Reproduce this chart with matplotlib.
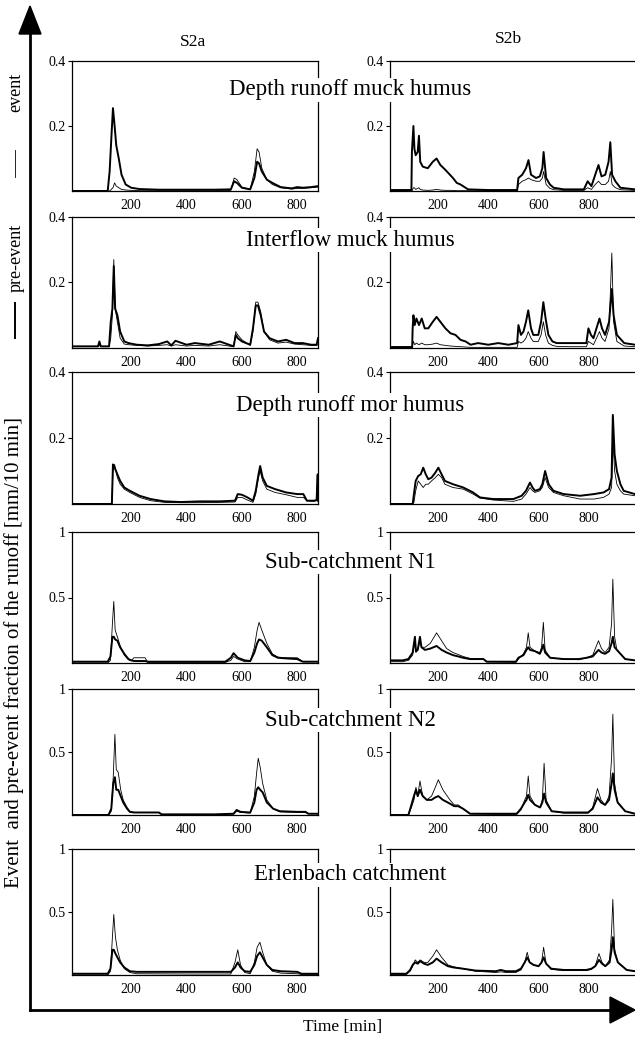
import matplotlib.pyplot as plt
from matplotlib.patches import Polygon

plt.rcParams['font.family'] = ['Liberation Serif', 'DejaVu Serif']

# ---- data (time in min, runoff in mm/10 min) ----
# S2a column
dr_muck_a_t = [-14, 115, 122, 128, 134, 140, 146, 155, 165, 180, 200, 230, 300, 400, 500, 560,
               572, 582, 600, 630, 645, 655, 662, 672, 690, 710, 740, 780, 800, 820, 850, 875]
dr_muck_a_pre = [0, 0, 0.06, 0.16, 0.255, 0.2, 0.14, 0.1, 0.05, 0.02, 0.01, 0.006, 0.004, 0.004, 0.004, 0.005,
                 0.03, 0.025, 0.01, 0.005, 0.04, 0.09, 0.085, 0.06, 0.035, 0.025, 0.012, 0.008, 0.012, 0.01, 0.012, 0.015]
dr_muck_a_evt = [0, 0, 0, 0.005, 0.01, 0.025, 0.015, 0.01, 0.005, 0.003, 0.002, 0.001, 0.001, 0.001, 0.001, 0.002,
                 0.04, 0.035, 0.012, 0.005, 0.06, 0.13, 0.12, 0.07, 0.035, 0.02, 0.01, 0.006, 0.008, 0.008, 0.01, 0.012]

if_muck_a_t = [-14, 80, 85, 90, 120, 126, 132, 137, 142, 150, 160, 175, 190, 220, 260, 300, 330, 345, 360, 400,
               430, 480, 520, 570, 578, 585, 600, 630, 640, 650, 658, 668, 680, 700, 730, 760, 790, 820, 850, 870, 875]
if_muck_a_pre = [0.005, 0.005, 0.02, 0.005, 0.005, 0.08, 0.12, 0.25, 0.12, 0.1, 0.05, 0.02, 0.015, 0.01, 0.008, 0.012,
                 0.02, 0.008, 0.022, 0.01, 0.015, 0.01, 0.02, 0.005, 0.04, 0.03, 0.02, 0.01, 0.06, 0.13, 0.13, 0.1,
                 0.05, 0.03, 0.02, 0.025, 0.015, 0.015, 0.01, 0.01, 0.03]
if_muck_a_evt = [0.005, 0.005, 0.01, 0.005, 0.005, 0.03, 0.1, 0.27, 0.12, 0.08, 0.03, 0.012, 0.01, 0.008, 0.006, 0.008,
                 0.01, 0.006, 0.01, 0.006, 0.008, 0.006, 0.01, 0.004, 0.05, 0.04, 0.025, 0.008, 0.05, 0.14, 0.14, 0.11,
                 0.05, 0.025, 0.015, 0.018, 0.012, 0.01, 0.008, 0.008, 0.01]

dr_mor_a_t = [-14, 130, 134, 140, 150, 160, 175, 195, 230, 270, 320, 380, 450, 520, 575, 585, 600, 620, 640, 650,
              660, 666, 675, 690, 720, 760, 800, 822, 835, 860, 870, 874, 875]
dr_mor_a_pre = [0, 0, 0.12, 0.11, 0.09, 0.07, 0.05, 0.04, 0.025, 0.015, 0.008, 0.006, 0.008, 0.008, 0.01, 0.03,
                0.028, 0.02, 0.01, 0.04, 0.09, 0.115, 0.08, 0.055, 0.045, 0.035, 0.03, 0.03, 0.01, 0.01, 0.012, 0.09, 0.01]
dr_mor_a_evt = [0, 0, 0.1, 0.12, 0.08, 0.06, 0.045, 0.035, 0.02, 0.01, 0.005, 0.004, 0.004, 0.005, 0.006, 0.02,
                0.02, 0.012, 0.005, 0.03, 0.08, 0.1, 0.07, 0.045, 0.035, 0.028, 0.02, 0.02, 0.01, 0.008, 0.01, 0.05, 0.01]

n1_a_t = [-14, 115, 125, 132, 137, 142, 150, 160, 175, 190, 200, 210, 250, 260, 400, 540, 560, 570, 585, 610,
          630, 645, 655, 662, 672, 690, 710, 730, 760, 800, 820, 875]
n1_a_pre = [0.01, 0.01, 0.05, 0.2, 0.2, 0.18, 0.17, 0.12, 0.07, 0.03, 0.02, 0.015, 0.015, 0.01, 0.01, 0.01,
            0.04, 0.075, 0.04, 0.02, 0.015, 0.08, 0.15, 0.18, 0.17, 0.12, 0.06, 0.04, 0.035, 0.03, 0.01, 0.01]
n1_a_evt = [0, 0, 0.02, 0.3, 0.47, 0.25, 0.2, 0.13, 0.06, 0.025, 0.02, 0.04, 0.04, 0.005, 0.005, 0.005,
            0.02, 0.05, 0.03, 0.01, 0.01, 0.12, 0.25, 0.31, 0.25, 0.15, 0.07, 0.045, 0.04, 0.04, 0.01, 0.01]

n2_a_t = [-14, 118, 128, 135, 141, 146, 153, 162, 171, 185, 195, 210, 300, 310, 500, 570, 581, 595, 630, 645,
          653, 659, 666, 675, 690, 713, 737, 800, 830, 840, 875]
n2_a_pre = [0, 0, 0.05, 0.25, 0.3, 0.2, 0.2, 0.15, 0.1, 0.05, 0.025, 0.02, 0.02, 0.005, 0.005, 0.01,
            0.04, 0.025, 0.02, 0.1, 0.2, 0.22, 0.2, 0.18, 0.1, 0.05, 0.03, 0.025, 0.025, 0.01, 0.01]
n2_a_evt = [0, 0, 0.03, 0.3, 0.64, 0.36, 0.34, 0.2, 0.12, 0.06, 0.03, 0.02, 0.02, 0.005, 0.005, 0.008,
            0.03, 0.02, 0.015, 0.15, 0.33, 0.45, 0.38, 0.25, 0.12, 0.05, 0.025, 0.02, 0.02, 0.01, 0.01]

erl_a_t = [-14, 115, 125, 132, 137, 143, 150, 160, 175, 195, 220, 400, 560, 575, 585, 595, 610, 630, 645, 655,
           665, 675, 690, 710, 740, 800, 815, 875]
erl_a_pre = [0.01, 0.01, 0.05, 0.2, 0.2, 0.17, 0.14, 0.1, 0.06, 0.03, 0.025, 0.025, 0.025, 0.06, 0.1, 0.06,
             0.03, 0.025, 0.08, 0.15, 0.18, 0.14, 0.08, 0.04, 0.03, 0.025, 0.01, 0.01]
erl_a_evt = [0, 0, 0.03, 0.3, 0.48, 0.3, 0.2, 0.12, 0.05, 0.02, 0.01, 0.008, 0.008, 0.1, 0.2, 0.08,
             0.02, 0.01, 0.1, 0.22, 0.26, 0.18, 0.08, 0.03, 0.015, 0.01, 0.005, 0.005]

# S2b column
dr_muck_b_t = [10, 95, 97, 103, 107, 112, 120, 125, 130, 140, 160, 180, 195, 210, 230, 260, 275, 290, 320, 400,
               515, 520, 535, 550, 560, 570, 590, 605, 615, 620, 630, 645, 660, 700, 780, 795, 810, 825, 838, 850,
               865, 878, 885, 892, 905, 925, 983]
dr_muck_b_pre = [0.003, 0.003, 0.12, 0.2, 0.13, 0.11, 0.12, 0.17, 0.09, 0.075, 0.07, 0.09, 0.1, 0.08, 0.065, 0.04,
                 0.025, 0.02, 0.005, 0.003, 0.003, 0.04, 0.05, 0.07, 0.095, 0.05, 0.04, 0.045, 0.07, 0.12, 0.04, 0.02,
                 0.01, 0.005, 0.005, 0.03, 0.015, 0.05, 0.08, 0.045, 0.05, 0.09, 0.15, 0.05, 0.03, 0.01, 0.005]
dr_muck_b_evt = [0, 0, 0, 0.01, 0.01, 0.005, 0.008, 0.01, 0.005, 0.003, 0.002, 0.003, 0.005, 0.003, 0.002, 0.002,
                 0.001, 0.001, 0.001, 0.001, 0.001, 0.02, 0.03, 0.035, 0.04, 0.035, 0.03, 0.03, 0.04, 0.06, 0.02, 0.008,
                 0.004, 0.002, 0.002, 0.01, 0.005, 0.02, 0.03, 0.02, 0.02, 0.03, 0.06, 0.02, 0.01, 0.004, 0.002]

if_muck_b_t = [10, 98, 100, 103, 108, 115, 125, 136, 148, 162, 180, 195, 210, 230, 250, 270, 290, 310, 330, 360,
               400, 440, 480, 515, 520, 530, 540, 550, 559, 570, 579, 599, 610, 619, 628, 639, 655, 672, 720, 790,
               798, 808, 818, 830, 842, 852, 864, 880, 891, 898, 911, 940, 983]
if_muck_b_pre = [0.003, 0.003, 0.06, 0.1, 0.07, 0.09, 0.07, 0.09, 0.06, 0.06, 0.08, 0.095, 0.08, 0.06, 0.045, 0.04,
                 0.025, 0.02, 0.01, 0.015, 0.01, 0.015, 0.01, 0.015, 0.07, 0.04, 0.05, 0.08, 0.115, 0.06, 0.04, 0.04,
                 0.08, 0.14, 0.09, 0.04, 0.02, 0.015, 0.015, 0.015, 0.06, 0.04, 0.03, 0.06, 0.09, 0.06, 0.04, 0.08,
                 0.18, 0.1, 0.04, 0.015, 0.01]
if_muck_b_evt = [0, 0, 0.01, 0.02, 0.01, 0.015, 0.01, 0.015, 0.01, 0.01, 0.012, 0.015, 0.01, 0.008, 0.006, 0.005,
                 0.004, 0.003, 0.002, 0.002, 0.002, 0.002, 0.002, 0.002, 0.02, 0.015, 0.02, 0.03, 0.05, 0.03, 0.02, 0.02,
                 0.04, 0.08, 0.04, 0.015, 0.008, 0.005, 0.004, 0.004, 0.02, 0.015, 0.01, 0.03, 0.05, 0.03, 0.02, 0.06,
                 0.29, 0.08, 0.02, 0.006, 0.004]

dr_mor_b_t = [10, 100, 105, 112, 122, 132, 142, 152, 162, 175, 190, 202, 215, 228, 260, 301, 340, 367, 420, 460,
              500, 533, 550, 566, 576, 586, 605, 615, 626, 640, 659, 700, 765, 820, 858, 880, 890, 895, 902, 911,
              925, 938, 983]
dr_mor_b_pre = [0, 0, 0.03, 0.07, 0.085, 0.09, 0.11, 0.09, 0.075, 0.08, 0.095, 0.11, 0.09, 0.07, 0.06, 0.05,
                0.035, 0.02, 0.015, 0.015, 0.015, 0.025, 0.04, 0.065, 0.05, 0.04, 0.045, 0.06, 0.1, 0.06, 0.04, 0.03,
                0.025, 0.03, 0.035, 0.045, 0.08, 0.27, 0.15, 0.1, 0.06, 0.04, 0.03]
dr_mor_b_evt = [0, 0, 0.005, 0.04, 0.07, 0.06, 0.05, 0.06, 0.06, 0.07, 0.08, 0.09, 0.08, 0.06, 0.05, 0.045,
                0.03, 0.018, 0.012, 0.01, 0.008, 0.015, 0.03, 0.05, 0.04, 0.035, 0.04, 0.05, 0.08, 0.05, 0.035, 0.025,
                0.015, 0.015, 0.02, 0.03, 0.05, 0.2, 0.1, 0.06, 0.04, 0.03, 0.025]

n1_b_t = [10, 60, 83, 100, 109, 113, 120, 129, 135, 149, 170, 195, 215, 235, 260, 281, 300, 328, 381, 394,
          510, 520, 540, 552, 559, 566, 586, 605, 612, 619, 626, 646, 699, 760, 791, 815, 838, 850, 864, 880,
          890, 895, 902, 911, 944, 983]
n1_b_pre = [0.02, 0.02, 0.03, 0.08, 0.2, 0.09, 0.1, 0.2, 0.12, 0.1, 0.11, 0.13, 0.1, 0.08, 0.06, 0.05,
            0.04, 0.03, 0.03, 0.01, 0.01, 0.04, 0.06, 0.1, 0.12, 0.1, 0.09, 0.07, 0.1, 0.14, 0.08, 0.04,
            0.03, 0.03, 0.04, 0.05, 0.1, 0.08, 0.07, 0.09, 0.15, 0.2, 0.12, 0.1, 0.03, 0.02]
n1_b_evt = [0.01, 0.01, 0.02, 0.06, 0.18, 0.08, 0.1, 0.17, 0.12, 0.12, 0.15, 0.23, 0.17, 0.11, 0.08, 0.065,
            0.05, 0.035, 0.03, 0.01, 0.005, 0.03, 0.07, 0.12, 0.23, 0.12, 0.09, 0.08, 0.12, 0.31, 0.1, 0.04,
            0.03, 0.025, 0.04, 0.06, 0.17, 0.11, 0.08, 0.12, 0.3, 0.64, 0.2, 0.1, 0.03, 0.02]

n2_b_t = [10, 83, 95, 105, 113, 120, 129, 140, 156, 175, 190, 202, 220, 248, 265, 281, 300, 328, 420, 513,
          530, 545, 552, 559, 566, 586, 606, 615, 622, 630, 652, 700, 797, 815, 834, 848, 864, 880, 890, 895,
          902, 914, 944, 983]
n2_b_pre = [0, 0, 0.08, 0.15, 0.2, 0.15, 0.2, 0.15, 0.12, 0.12, 0.14, 0.15, 0.12, 0.09, 0.07, 0.07,
            0.05, 0.01, 0.01, 0.01, 0.05, 0.1, 0.12, 0.16, 0.12, 0.08, 0.06, 0.1, 0.17, 0.1, 0.03, 0.02,
            0.02, 0.05, 0.14, 0.1, 0.08, 0.12, 0.25, 0.33, 0.2, 0.1, 0.03, 0.01]
n2_b_evt = [0, 0, 0.06, 0.12, 0.22, 0.15, 0.27, 0.15, 0.12, 0.15, 0.22, 0.28, 0.2, 0.12, 0.08, 0.08,
            0.05, 0.01, 0.005, 0.005, 0.04, 0.12, 0.15, 0.31, 0.15, 0.08, 0.06, 0.12, 0.41, 0.12, 0.03, 0.015,
            0.015, 0.06, 0.21, 0.12, 0.08, 0.15, 0.45, 0.8, 0.25, 0.1, 0.03, 0.01]

erl_b_t = [10, 75, 90, 100, 110, 120, 130, 145, 160, 180, 195, 215, 240, 262, 300, 350, 430, 450, 470, 510,
           530, 545, 555, 565, 580, 600, 612, 620, 630, 650, 700, 790, 810, 825, 840, 852, 865, 882, 890, 895,
           902, 915, 950, 983]
erl_b_pre = [0.01, 0.01, 0.04, 0.08, 0.1, 0.09, 0.11, 0.09, 0.08, 0.1, 0.13, 0.1, 0.07, 0.06, 0.05, 0.035,
             0.03, 0.04, 0.03, 0.03, 0.05, 0.1, 0.14, 0.1, 0.08, 0.07, 0.1, 0.14, 0.09, 0.05, 0.04, 0.04,
             0.05, 0.07, 0.12, 0.09, 0.07, 0.1, 0.2, 0.3, 0.18, 0.1, 0.04, 0.03]
erl_b_evt = [0.005, 0.005, 0.03, 0.07, 0.12, 0.1, 0.12, 0.1, 0.1, 0.15, 0.2, 0.14, 0.08, 0.065, 0.05, 0.03,
             0.02, 0.025, 0.02, 0.02, 0.04, 0.1, 0.18, 0.1, 0.08, 0.07, 0.1, 0.22, 0.09, 0.045, 0.035, 0.035,
             0.045, 0.07, 0.17, 0.1, 0.07, 0.12, 0.35, 0.6, 0.2, 0.1, 0.04, 0.03]

row_titles = ["Depth runoff muck humus", "Interflow muck humus", "Depth runoff mor humus",
              "Sub-catchment N1", "Sub-catchment N2", "Erlenbach catchment"]
col_titles = ["S2a", "S2b"]
x_ticks = [200, 400, 600, 800]

panels_a = [(dr_muck_a_t, dr_muck_a_pre, dr_muck_a_evt), (if_muck_a_t, if_muck_a_pre, if_muck_a_evt),
            (dr_mor_a_t, dr_mor_a_pre, dr_mor_a_evt), (n1_a_t, n1_a_pre, n1_a_evt),
            (n2_a_t, n2_a_pre, n2_a_evt), (erl_a_t, erl_a_pre, erl_a_evt)]
panels_b = [(dr_muck_b_t, dr_muck_b_pre, dr_muck_b_evt), (if_muck_b_t, if_muck_b_pre, if_muck_b_evt),
            (dr_mor_b_t, dr_mor_b_pre, dr_mor_b_evt), (n1_b_t, n1_b_pre, n1_b_evt),
            (n2_b_t, n2_b_pre, n2_b_evt), (erl_b_t, erl_b_pre, erl_b_evt)]

# ---- layout (pixels) ----
W, H = 635, 1040
fig = plt.figure(figsize=(W / 100, H / 100), dpi=100)

bg = fig.add_axes([0, 0, 1, 1])
bg.set_xlim(0, W)
bg.set_ylim(H, 0)
bg.axis('off')

row_top = [61, 217, 372, 532, 689, 849]
row_bot = [191, 348, 504, 663, 815, 975]
title_y = [90, 240, 405, 562, 720, 875]
col_x = [(72, 318), (390, 635)]
col_xlim = [(-14, 875), (10, 983)]


def px_axes(x0, x1, top, bottom):
    return fig.add_axes([x0 / W, 1 - bottom / H, (x1 - x0) / W, (bottom - top) / H])


for r in range(6):
    for c, panels in enumerate([panels_a, panels_b]):
        t, pre, evt = panels[r]
        ax = px_axes(col_x[c][0], col_x[c][1], row_top[r], row_bot[r])
        ax.patch.set_alpha(0)
        ax.plot(t, pre, color='black', lw=1.4)
        ax.plot(t, evt, color='black', lw=0.6)
        ax.set_xlim(col_xlim[c])
        if r < 3:
            ax.set_ylim(0, 0.4)
            ax.set_yticks([0.2, 0.4])
            ax.set_yticklabels(["0.2", "0.4"])
        else:
            ax.set_ylim(0, 1)
            ax.set_yticks([0.5, 1])
            ax.set_yticklabels(["0.5", "1"])
        ax.set_xticks(x_ticks)
        ax.tick_params(axis='x', length=0, pad=6, labelsize=10)
        ax.tick_params(axis='y', length=3, width=0.8, pad=1.5, labelsize=10)
        for s in ax.spines.values():
            s.set_linewidth(0.9)
        if c == 1:
            ax.spines['right'].set_visible(False)

# row titles sit on top of the panels, blanking the spines behind them
for r in range(6):
    fig.text(350 / W, 1 - title_y[r] / H, row_titles[r], fontsize=16.5, ha='center', va='center',
             zorder=10, bbox=dict(facecolor='white', edgecolor='none', pad=1))

bg.text(193, 42, col_titles[0], fontsize=12.5, ha='center', va='center')
bg.text(508, 39, col_titles[1], fontsize=12.5, ha='center', va='center')

# big axis arrows
bg.plot([30, 30], [1010, 30], color='black', lw=2)
bg.plot([30, 612], [1010, 1010], color='black', lw=2)
bg.add_patch(Polygon([(19, 34), (41, 34), (30, 6)], closed=True, color='black'))
bg.add_patch(Polygon([(610, 997), (610, 1023), (635, 1010)], closed=True, color='black'))

# legend along the vertical axis
bg.text(16, 92, "event", rotation=90, fontsize=13, ha='center', va='center')
bg.plot([15, 15], [150, 177], color='black', lw=0.6)
bg.text(16, 258, "pre-event", rotation=90, fontsize=13, ha='center', va='center')
bg.plot([15, 15], [303, 338], color='black', lw=1.4)

bg.text(14, 652, "Event  and pre-event fraction of the runoff [mm/10 min]", rotation=90,
        fontsize=15, ha='center', va='center')
bg.text(343, 1027, "Time [min]", fontsize=12.5, ha='center', va='center')

fig.savefig("out.png", dpi=100)
